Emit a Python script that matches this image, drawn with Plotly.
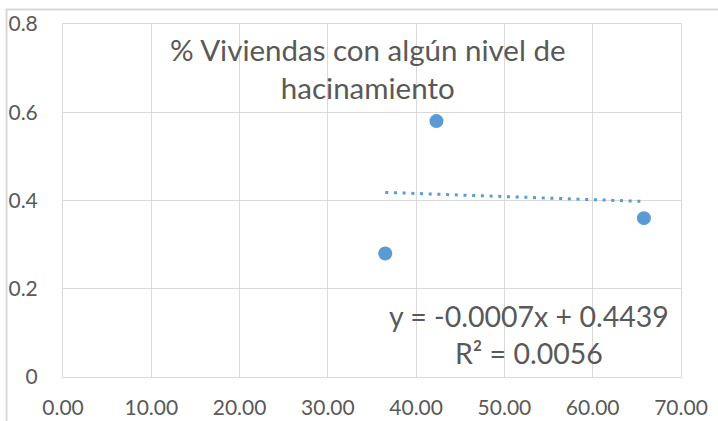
import plotly.graph_objects as go

# Data
x_vals = [36.5, 42.3, 65.8]
y_vals = [0.28, 0.58, 0.36]
trend_slope = -0.0007
trend_intercept = 0.4439
x_ticks = [0, 10, 20, 30, 40, 50, 60, 70]
y_ticks = [0, 0.2, 0.4, 0.6, 0.8]
title_text = "% Viviendas con algún nivel de<br>hacinamiento"
eq_text = "y = -0.0007x + 0.4439<br>R² = 0.0056"

W, H = 718, 421
L, R, T, B = 63, 36.5, 24, 44
PW = W - L - R
PH = H - T - B

def px_x(p):
    return (p - L) / PW

def px_y(p):
    return (H - B - p) / PH

FONT = "Lato, 'Open Sans', sans-serif"
TXT = "#595959"
GRID = "#D9D9D9"
BLUE = "#5B9BD5"

tx = [min(x_vals), max(x_vals)]
ty = [trend_slope * v + trend_intercept for v in tx]

fig = go.Figure()
fig.add_trace(go.Scatter(x=tx, y=ty, mode="lines",
                         line=dict(color=BLUE, width=3, dash="3px,5.7px"),
                         hoverinfo="skip", showlegend=False))
fig.add_trace(go.Scatter(x=x_vals, y=y_vals, mode="markers",
                         marker=dict(color=BLUE, size=14),
                         showlegend=False))

fig.update_layout(
    width=W, height=H,
    margin=dict(l=L, r=R, t=T, b=B, autoexpand=False),
    paper_bgcolor="white", plot_bgcolor="white",
    font=dict(family=FONT, color=TXT),
    showlegend=False,
    xaxis=dict(range=[0, 70], tickvals=x_ticks, tickformat=".2f",
               automargin=False,
               showgrid=True, gridcolor=GRID, gridwidth=1,
               showline=True, linecolor=GRID, linewidth=1, mirror=True,
               zeroline=False, ticks="", ticklabelstandoff=12,
               tickfont=dict(size=21, color=TXT, family=FONT)),
    yaxis=dict(range=[0, 0.8], tickvals=y_ticks,
               ticktext=["0", "0.2", "0.4", "0.6", "0.8"],
               automargin=False,
               showgrid=True, gridcolor=GRID, gridwidth=1,
               showline=True, linecolor=GRID, linewidth=1, mirror=True,
               zeroline=False, ticks="", ticklabelstandoff=20,
               tickfont=dict(size=21, color=TXT, family=FONT)),
    shapes=[dict(type="rect", xref="paper", yref="paper",
                 x0=px_x(6.5), x1=px_x(740), y0=px_y(440), y1=px_y(9.5),
                 line=dict(color=GRID, width=2), fillcolor="rgba(0,0,0,0)",
                 layer="above")],
    annotations=[
        dict(text=title_text, xref="paper", yref="paper",
             x=px_x(368), y=px_y(68), xanchor="center", yanchor="middle",
             showarrow=False, font=dict(size=29.5, color=TXT, family=FONT)),
        dict(text=eq_text, xref="paper", yref="paper",
             x=px_x(529), y=px_y(334), xanchor="center", yanchor="middle",
             showarrow=False, font=dict(size=28.5, color=TXT, family=FONT)),
    ],
)

fig.write_html("out.html",
               config={"displayModeBar": False},
               post_script="document.body.style.margin='0';document.body.style.overflow='hidden';")
